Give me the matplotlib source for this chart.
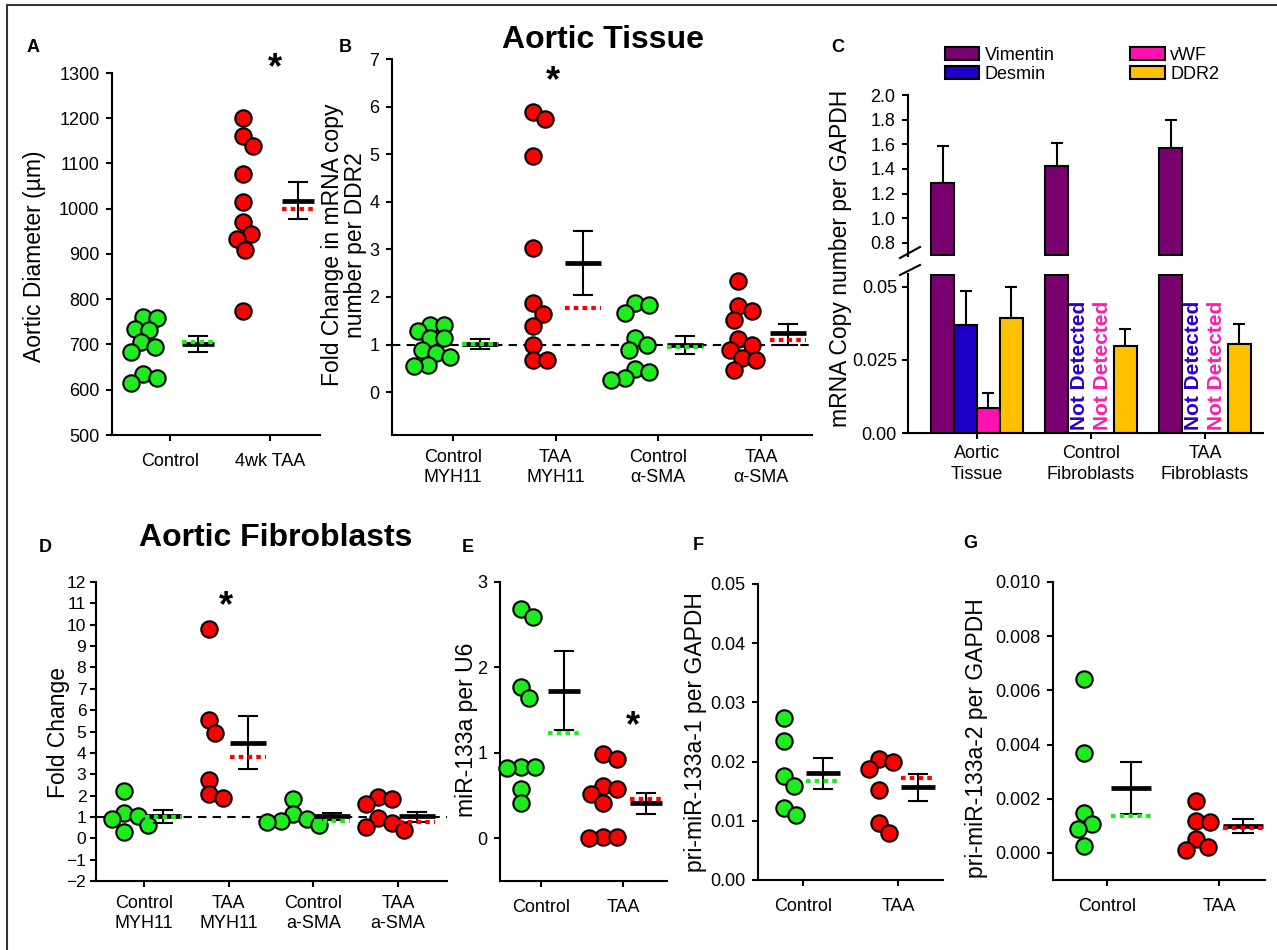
import numpy as np
import matplotlib
matplotlib.use("Agg")
import matplotlib.pyplot as plt
from matplotlib.lines import Line2D
from matplotlib.patches import Patch
from matplotlib.ticker import FormatStrFormatter

plt.rcParams['font.family'] = ['Liberation Sans', 'DejaVu Sans']

# ---------------- data ----------------
# Panel A
A_labels = ["Control", "4wk TAA"]
A_ctrl = [760, 758, 734, 732, 706, 695, 684, 634, 625, 614]
A_taa = [1200, 1160, 1138, 1077, 1014, 970, 945, 933, 908, 774]
A_mean = [700, 1018]
A_lo = [683, 978]
A_hi = [719, 1060]
A_med = [705, 1000]

# Panel B
B_labels = ["Control\nMYH11", "TAA\nMYH11", "Control\nα-SMA", "TAA\nα-SMA"]
B_ctrl_myh = [1.42, 1.42, 1.28, 1.13, 1.13, 0.89, 0.82, 0.74, 0.57, 0.54]
B_taa_myh = [5.88, 5.73, 4.97, 3.03, 1.87, 1.65, 1.38, 1.00, 0.68, 0.68]
B_ctrl_sma = [1.87, 1.83, 1.66, 1.14, 1.00, 0.88, 0.49, 0.43, 0.29, 0.26]
B_taa_sma = [2.34, 1.80, 1.70, 1.52, 1.12, 1.00, 0.89, 0.71, 0.68, 0.47]
B_mean = [1.01, 2.71, 1.00, 1.24]
B_lo = [0.90, 2.05, 0.81, 1.00]
B_hi = [1.11, 3.39, 1.19, 1.43]
B_med = [1.02, 1.77, 0.94, 1.09]

# Panel C
C_labels = ["Aortic\nTissue", "Control\nFibroblasts", "TAA\nFibroblasts"]
C_series = ["Vimentin", "Desmin", "vWF", "DDR2"]
C_vimentin = [1.29, 1.425, 1.574]
C_vimentin_err = [1.585, 1.61, 1.80]
C_desmin = [0.0369, np.nan, np.nan]
C_desmin_err = [0.0485, np.nan, np.nan]
C_vwf = [0.0087, np.nan, np.nan]
C_vwf_err = [0.0136, np.nan, np.nan]
C_ddr2 = [0.0394, 0.0296, 0.0303]
C_ddr2_err = [0.0500, 0.0355, 0.0371]

# Panel D
D_labels = ["Control\nMYH11", "TAA\nMYH11", "Control\na-SMA", "TAA\na-SMA"]
D_ctrl_myh = [2.2, 1.2, 1.05, 0.9, 0.6, 0.3]
D_taa_myh = [9.78, 5.52, 4.93, 2.74, 2.06, 1.90]
D_ctrl_sma = [1.85, 1.15, 0.9, 0.8, 0.75, 0.6]
D_taa_sma = [1.95, 1.85, 1.6, 0.95, 0.7, 0.55, 0.4]
D_mean = [1.03, 4.48, 1.03, 1.03]
D_lo = [0.72, 3.26, 0.84, 0.76]
D_hi = [1.31, 5.71, 1.18, 1.23]
D_med = [1.00, 3.81, 0.81, 0.76]

# Panel E
E_labels = ["Control", "TAA"]
E_ctrl = [2.68, 2.59, 1.77, 1.64, 0.84, 0.84, 0.82, 0.58, 0.41]
E_taa = [0.99, 0.93, 0.61, 0.58, 0.52, 0.41, 0.02, 0.01, 0.0]
E_mean = [1.72, 0.41]
E_lo = [1.27, 0.28]
E_hi = [2.19, 0.53]
E_med = [1.23, 0.46]

# Panel F
F_labels = ["Control", "TAA"]
F_ctrl = [0.0273, 0.0235, 0.0175, 0.0158, 0.0121, 0.0110]
F_taa = [0.0205, 0.0200, 0.0187, 0.0152, 0.0097, 0.0080]
F_mean = [0.0180, 0.0157]
F_lo = [0.0153, 0.0134]
F_hi = [0.0206, 0.0179]
F_med = [0.0168, 0.0172]

# Panel G
G_labels = ["Control", "TAA"]
G_ctrl = [0.00643, 0.00369, 0.00148, 0.00107, 0.00090, 0.00025]
G_taa = [0.00190, 0.00117, 0.00113, 0.00052, 0.00020, 0.00012]
G_mean = [0.00240, 0.00101]
G_lo = [0.00144, 0.00074]
G_hi = [0.00336, 0.00125]
G_med = [0.00138, 0.00092]

# ---------------- style ----------------
GREEN = '#1ded1d'
RED = '#ff0000'
VIM = '#7a0070'
DES = '#1e00c8'
VWF = '#ff10b0'
DDR = '#ffc000'
ND_BLUE = '#2a00d0'
ND_MAG = '#ff1cac'

W, H = 1277, 950
fig = plt.figure(figsize=(W / 100, H / 100), dpi=100)

TICK_FS = 13
LAB_FS = 16.5


def add_ax(l, t, r, b):
    return fig.add_axes([l / W, 1 - b / H, (r - l) / W, (b - t) / H])


def style_ax(ax):
    for s in ['top', 'right']:
        ax.spines[s].set_visible(False)
    for s in ['left', 'bottom']:
        ax.spines[s].set_linewidth(1.5)
    ax.tick_params(direction='out', length=4, width=1.5, labelsize=TICK_FS, pad=5)
    ax.set_facecolor('none')


def fig_text(x, y, s, **kw):
    fig.text(x / W, 1 - y / H, s, **kw)


def beeswarm(vals, px_per_unit, diam=13.5, step=2.0):
    ypx = np.asarray(vals, float) * px_per_unit
    placed = []
    offs = np.zeros(len(ypx))
    order = np.argsort(-ypx)
    cands = [0.0]
    for k in range(1, 40):
        cands += [k * step, -k * step]
    for i in order:
        for c in cands:
            ok = True
            for (px, py) in placed:
                if (c - px) ** 2 + (ypx[i] - py) ** 2 < diam ** 2:
                    ok = False
                    break
            if ok:
                offs[i] = c
                placed.append((c, ypx[i]))
                break
    return offs


def scatter_panel(box, tick_px, ylim, labels, groups, colors, means, lo, hi, med,
                  pt_off, sum_off, hw=17, cw=9, hline=None, ls=1.25):
    l, t, r, b = box
    ax = add_ax(l, t, r, b)
    style_ax(ax)
    n = len(tick_px)
    s = (tick_px[-1] - tick_px[0]) / (n - 1)
    ax.set_xlim((l - tick_px[0]) / s, (r - tick_px[0]) / s)
    ax.set_ylim(*ylim)
    px_per_unit = (b - t) / (ylim[1] - ylim[0])
    if hline is not None:
        ax.axhline(hline, color='k', lw=1.5, ls=(0, (4, 3)), zorder=1)
    for i, (vals, col) in enumerate(zip(groups, colors)):
        offs = beeswarm(vals, px_per_unit)
        xs = i + (pt_off + offs) / s
        ax.plot(xs, vals, 'o', ms=11.8, mfc=col, mec='k', mew=1.5, ls='none', zorder=3, clip_on=False)
        xc = i + sum_off / s
        h = hw / s
        c = cw / s
        ax.plot([xc - h, xc + h], [means[i]] * 2, color='k', lw=3.4, solid_capstyle='butt', zorder=4)
        ax.plot([xc, xc], [lo[i], hi[i]], color='k', lw=1.5, zorder=4)
        ax.plot([xc - c, xc + c], [hi[i]] * 2, color='k', lw=1.5, zorder=4)
        ax.plot([xc - c, xc + c], [lo[i]] * 2, color='k', lw=1.5, zorder=4)
        ax.plot([xc - h, xc + h], [med[i]] * 2, color=col, lw=3, ls=(0, (1.1, 1.0)), zorder=5)
    ax.set_xticks(range(n))
    ax.set_xticklabels(labels, fontsize=TICK_FS, linespacing=ls)
    return ax


# ---------------- Panel A ----------------
axA = scatter_panel((112, 73, 320, 435), [170, 270], (500, 1300), A_labels,
                    [A_ctrl, A_taa], [GREEN, RED], A_mean, A_lo, A_hi, A_med,
                    pt_off=-27, sum_off=28, hw=16, cw=9)
axA.set_yticks(np.arange(500, 1301, 100))
axA.tick_params(axis='x', pad=9)
fig_text(35, 256, "Aortic Diameter (µm)", rotation=90, ha='center', va='center', fontsize=LAB_FS)

# ---------------- Panel B ----------------
axB = scatter_panel((392, 59, 812, 435), [453, 559, 658, 761], (-0.9, 7), B_labels,
                    [B_ctrl_myh, B_taa_myh, B_ctrl_sma, B_taa_sma], [GREEN, RED, GREEN, RED],
                    B_mean, B_lo, B_hi, B_med, pt_off=-23, sum_off=27, hw=18, cw=9, hline=1,
                    ls=1.22)
axB.set_yticks(range(0, 8))
axB.tick_params(axis='x', pad=6)
fig_text(344, 245, "Fold Change in mRNA copy\nnumber per DDR2", rotation=90, ha='center',
         va='center', fontsize=LAB_FS, linespacing=1.02)
fig_text(603, 40, "Aortic Tissue", ha='center', va='center', fontsize=23, fontweight='bold')

# ---------------- Panel C ----------------
c_l, c_r = 908, 1263
c_ticks = [977, 1092, 1205]
cs = (c_ticks[-1] - c_ticks[0]) / 2
cxlim = ((c_l - c_ticks[0]) / cs, (c_r - c_ticks[0]) / cs)
BREAK_HI = 0.7      # upper axis starts here
BREAK_LO = 0.054    # lower axis ends here
axCu = add_ax(c_l, 95, c_r, 256)
axCl = add_ax(c_l, 274, c_r, 433)
for ax in (axCu, axCl):
    style_ax(ax)
    ax.set_xlim(*cxlim)
axCu.spines['bottom'].set_visible(False)
axCu.tick_params(axis='x', bottom=False, labelbottom=False)
axCu.set_ylim(BREAK_HI - 0.006, 2.0)
axCu.set_yticks(np.arange(0.8, 2.01, 0.2))
axCu.yaxis.set_major_formatter(FormatStrFormatter('%.1f'))
axCl.set_ylim(0, BREAK_LO + 0.0003)
axCl.set_yticks([0, 0.025, 0.05])
axCl.set_yticklabels(['0.00', '0.025', '0.05'])
axCl.tick_params(axis='y', pad=4)

bw = 0.2
xg = np.arange(3)
series = [(C_vimentin, C_vimentin_err, VIM), (C_desmin, C_desmin_err, DES),
          (C_vwf, C_vwf_err, VWF), (C_ddr2, C_ddr2_err, DDR)]
for j, (vals, errs, col) in enumerate(series):
    xs = xg + (j - 1.5) * bw
    vals = np.asarray(vals, float)
    errs = np.asarray(errs, float)
    if j == 0:
        axCu.bar(xs, vals - BREAK_HI, bottom=BREAK_HI, width=bw, color=col, edgecolor='k', lw=1.5, zorder=2)
        axCu.errorbar(xs, vals, yerr=[np.zeros(3), errs - vals], fmt='none', ecolor='k',
                      elinewidth=1.5, capsize=4, capthick=1.5, zorder=1)
        axCl.bar(xs, np.full(3, BREAK_LO), width=bw, color=col, edgecolor='k', lw=1.5, zorder=2)
    else:
        m = ~np.isnan(vals)
        axCl.bar(xs[m], vals[m], width=bw, color=col, edgecolor='k', lw=1.5, zorder=2)
        axCl.errorbar(xs[m], vals[m], yerr=[np.zeros(m.sum()), errs[m] - vals[m]], fmt='none',
                      ecolor='k', elinewidth=1.5, capsize=4, capthick=1.5, zorder=1)
# Not detected labels
for g in (1, 2):
    axCl.text(g - 0.5 * bw, 0.0009, "Not Detected", rotation=90, ha='center', va='bottom',
              color=ND_BLUE, fontweight='bold', fontsize=15)
    axCl.text(g + 0.5 * bw, 0.0009, "Not Detected", rotation=90, ha='center', va='bottom',
              color=ND_MAG, fontweight='bold', fontsize=15)
axCl.set_xticks(xg)
axCl.set_xticklabels(C_labels, fontsize=TICK_FS, linespacing=1.3)
# break marks
for (x0, y0, x1, y1) in [(900, 258, 920, 247), (900, 275, 920, 265)]:
    fig.add_artist(Line2D([x0 / W, x1 / W], [1 - y0 / H, 1 - y1 / H], transform=fig.transFigure,
                          color='k', lw=1.5))
fig_text(840, 258, "mRNA Copy number per GAPDH", rotation=90, ha='center', va='center', fontsize=LAB_FS)
handles = [Patch(facecolor=c, edgecolor='k', lw=1.5, label=lab)
           for c, lab in zip([VIM, DES, VWF, DDR], C_series)]
fig.legend(handles=handles, loc='upper left', bbox_to_anchor=(945 / W, 1 - 47 / H), ncol=2,
           frameon=False, fontsize=13, handlelength=1.9, handleheight=0.72, handletextpad=0.3,
           columnspacing=4.2, labelspacing=0.12, borderpad=0, borderaxespad=0)

# ---------------- Panel D ----------------
axD = scatter_panel((96, 582, 447, 881), [144, 226, 309, 398], (-2, 12), D_labels,
                    [D_ctrl_myh, D_taa_myh, D_ctrl_sma, D_taa_sma], [GREEN, RED, GREEN, RED],
                    D_mean, D_lo, D_hi, D_med, pt_off=-20, sum_off=19, hw=18, cw=9, hline=1,
                    ls=1.25)
axD.set_yticks(range(-2, 13))
axD.tick_params(axis='y', labelsize=12.5, pad=3)
axD.tick_params(axis='x', pad=6)
fig_text(59, 732, "Fold Change", rotation=90, ha='center', va='center', fontsize=LAB_FS)
fig_text(276, 538, "Aortic Fibroblasts", ha='center', va='center', fontsize=23, fontweight='bold')

# ---------------- Panel E ----------------
axE = scatter_panel((500, 582, 667, 881), [541, 623], (-0.5, 3), E_labels,
                    [E_ctrl, E_taa], [GREEN, RED], E_mean, E_lo, E_hi, E_med,
                    pt_off=-20, sum_off=23, hw=16, cw=9)
axE.set_yticks(range(0, 4))
axE.tick_params(axis='x', pad=9)
fig_text(467, 730, "miR-133a per U6", rotation=90, ha='center', va='center', fontsize=LAB_FS)

# ---------------- Panel F ----------------
axF = scatter_panel((758, 584, 943, 880), [803, 898], (0, 0.05), F_labels,
                    [F_ctrl, F_taa], [GREEN, RED], F_mean, F_lo, F_hi, F_med,
                    pt_off=-19, sum_off=20, hw=17, cw=9)
axF.set_yticks(np.arange(0, 0.0501, 0.01))
axF.yaxis.set_major_formatter(FormatStrFormatter('%.2f'))
axF.tick_params(axis='x', pad=9)
fig_text(695, 732, "pri-miR-133a-1 per GAPDH", rotation=90, ha='center', va='center', fontsize=LAB_FS)

# ---------------- Panel G ----------------
axG = scatter_panel((1053, 582, 1265, 880), [1107, 1219], (-0.001, 0.010), G_labels,
                    [G_ctrl, G_taa], [GREEN, RED], G_mean, G_lo, G_hi, G_med,
                    pt_off=-23, sum_off=24, hw=20, cw=10)
axG.set_yticks(np.arange(0, 0.01001, 0.002))
axG.yaxis.set_major_formatter(FormatStrFormatter('%.3f'))
axG.tick_params(axis='x', pad=9)
fig_text(977, 738, "pri-miR-133a-2 per GAPDH", rotation=90, ha='center', va='center', fontsize=LAB_FS)

# ---------------- panel letters & asterisks ----------------
for s, x, y in [("A", 33, 48), ("B", 345, 48), ("C", 838, 48), ("D", 45, 547),
                ("E", 468, 547), ("F", 698, 546), ("G", 970, 543)]:
    fig_text(x, y, s, ha='center', va='center', fontsize=13, fontweight='bold')
for x, y in [(275, 69), (553, 82), (226, 607), (633, 727)]:
    fig_text(x, y, "*", ha='center', va='center', fontsize=26, fontweight='bold')

# frame
fig.add_artist(Line2D([7 / W, 7 / W], [0, 1 - 5 / H], transform=fig.transFigure, color='#333333', lw=1.5))
fig.add_artist(Line2D([7 / W, 1], [1 - 5 / H, 1 - 5 / H], transform=fig.transFigure, color='#333333', lw=1.5))

fig.savefig("out.png", dpi=100)
